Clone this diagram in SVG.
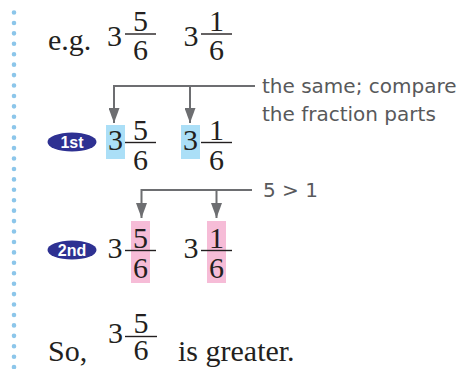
<svg xmlns="http://www.w3.org/2000/svg" width="464" height="369" viewBox="0 0 464 369">
<style>
.num{font-family:"Liberation Serif",serif;font-size:30px;fill:#231f20;text-anchor:middle}
.txt{font-family:"Liberation Serif",serif;font-size:30px;fill:#231f20}
.bar{stroke:#231f20;stroke-width:1.4}
.conn{stroke:#6d6e71;stroke-width:2;fill:none}
.note{font-family:"DejaVu Sans","Liberation Sans",sans-serif;font-size:20px;fill:#58595b}
.badge{fill:#2e3192}
.badgeT{font-family:"Liberation Sans",sans-serif;font-weight:bold;font-size:16px;fill:#fff;text-anchor:middle}
.blue{fill:#abdff7}
.pink{fill:#f6bcd7}
</style>
<defs>
<marker id="ah" markerWidth="15" markerHeight="11" refX="15" refY="5.5" orient="auto" markerUnits="userSpaceOnUse" viewBox="0 0 15 11">
<path d="M0,0 L15,5.5 L0,11 Z" fill="#6d6e71"/>
</marker>
</defs>
<rect width="464" height="369" fill="#fff"/>
<line x1="14" y1="12.5" x2="14" y2="368" stroke="#8cc6ea" stroke-width="4.6" stroke-linecap="round" stroke-dasharray="0 10.43"/>

<g id="row-eg">
<text class="txt" x="48" y="50">e.g.</text>
<text class="num" x="114.5" y="46">3</text>
<text class="num" x="140.5" y="31">5</text>
<line class="bar" x1="125" y1="34" x2="156" y2="34"/>
<text class="num" x="140.5" y="60">6</text>
<text class="num" x="191" y="46">3</text>
<text class="num" x="216.5" y="31">1</text>
<line class="bar" x1="201" y1="34" x2="232" y2="34"/>
<text class="num" x="216.5" y="60">6</text>
</g>

<g id="row-1st">
<ellipse class="badge" cx="72" cy="142" rx="24.5" ry="9.5"/>
<text class="badgeT" x="72" y="147.5">1st</text>
<rect class="blue" x="106" y="125" width="19" height="34"/>
<rect class="blue" x="181" y="125" width="19" height="34"/>
<text class="num" x="115.5" y="150">3</text>
<text class="num" x="140.5" y="139.5">5</text>
<line class="bar" x1="125" y1="142.5" x2="156" y2="142.5"/>
<text class="num" x="140.5" y="170">6</text>
<text class="num" x="190.5" y="150">3</text>
<text class="num" x="216.5" y="139.5">1</text>
<line class="bar" x1="201" y1="142.5" x2="232" y2="142.5"/>
<text class="num" x="216.5" y="170">6</text>
</g>

<g id="row-2nd">
<ellipse class="badge" cx="72" cy="250" rx="24.5" ry="9.5"/>
<text class="badgeT" x="72" y="255.5">2nd</text>
<rect class="pink" x="131" y="221" width="19" height="62"/>
<rect class="pink" x="207" y="221" width="19" height="62"/>
<text class="num" x="115" y="258">3</text>
<text class="num" x="140.5" y="247.5">5</text>
<line class="bar" x1="125" y1="250.5" x2="156" y2="250.5"/>
<text class="num" x="140.5" y="278">6</text>
<text class="num" x="191" y="258">3</text>
<text class="num" x="216.5" y="247.5">1</text>
<line class="bar" x1="201" y1="250.5" x2="232" y2="250.5"/>
<text class="num" x="216.5" y="278">6</text>
</g>

<g id="row-so">
<text class="txt" x="48" y="361">So,</text>
<text class="num" x="115.5" y="343">3</text>
<text class="num" x="141" y="333">5</text>
<line class="bar" x1="125" y1="336.5" x2="157" y2="336.5"/>
<text class="num" x="141" y="360">6</text>
<text class="txt" x="178" y="361">is greater.</text>
</g>

<g id="note-1">
<text class="note" x="262" y="93">the same; compare</text>
<text class="note" x="262" y="121">the fraction parts</text>
</g>
<g id="note-2">
<text class="note" x="263" y="197" font-size="19">5 &gt; 1</text>
</g>

<g id="connectors">
<path class="conn" d="M255,86 H114 V123" marker-end="url(#ah)"/>
<path class="conn" d="M190,86 V123" marker-end="url(#ah)"/>
<path class="conn" d="M252,190 H141.5 V218" marker-end="url(#ah)"/>
<path class="conn" d="M216.5,190 V218" marker-end="url(#ah)"/>
</g>
</svg>
